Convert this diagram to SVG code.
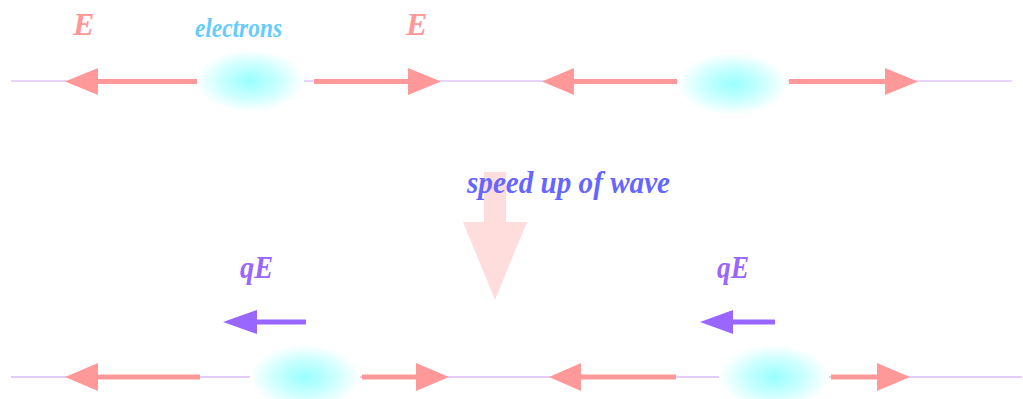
<svg xmlns="http://www.w3.org/2000/svg" width="1023" height="399" viewBox="0 0 1023 399">
<style>
.lbl{font-family:"Liberation Serif","Times New Roman",serif;font-style:italic;font-weight:bold}
.e{fill:#ff9999;font-size:32px}
.el{fill:#66ccff;font-size:27px}
.sp{fill:#6666ff;font-size:32px}
.qe{fill:#9966ff;font-size:31px}
.wire1{stroke:#d4aaf4;stroke-width:1.2;fill:none}
.wire2{stroke:#e4ccfa;stroke-width:2;fill:none}
.far{fill:#ff9999}
.qar{fill:#9966ff}
.blob{fill:url(#cloud)}
</style>
<defs>
<radialGradient id="cloud" cx="50%" cy="50%" r="50%">
<stop offset="0" stop-color="#99ffff"/>
<stop offset="0.55" stop-color="#ccffff"/>
<stop offset="1" stop-color="#ffffff"/>
</radialGradient>
</defs>
<rect width="1023" height="399" fill="#ffffff"/>
<g id="connectors">
<line class="wire1" x1="11" y1="81" x2="1012" y2="81"/>
<line class="wire2" x1="11" y1="377" x2="1022" y2="377"/>
</g>
<g id="top-electron-1"><ellipse class="blob" cx="250" cy="81" rx="54" ry="31"/></g>
<g id="top-electron-2"><ellipse class="blob" cx="733" cy="84" rx="55" ry="31"/></g>
<g id="bottom-electron-1"><ellipse class="blob" cx="305" cy="377" rx="55" ry="32"/></g>
<g id="bottom-electron-2"><ellipse class="blob" cx="774" cy="377" rx="55" ry="32"/></g>
<g id="top-fields">
<path class="far" d="M65,81.5 L98,68 L98,79 L197,79 L197,84 L98,84 L98,95 Z"/>
<path class="far" d="M441,81.5 L408,68 L408,79 L314,79 L314,84 L408,84 L408,95 Z"/>
<path class="far" d="M542,81.5 L574,68 L574,79 L677,79 L677,84 L574,84 L574,95 Z"/>
<path class="far" d="M918,81.5 L885,68 L885,79 L789,79 L789,84 L885,84 L885,95 Z"/>
</g>
<g id="bottom-fields">
<path class="far" d="M65,377 L98,363 L98,374.5 L200,374.5 L200,379.5 L98,379.5 L98,391 Z"/>
<path class="far" d="M449,377 L416,363 L416,374.5 L362,374.5 L362,379.5 L416,379.5 L416,391 Z"/>
<path class="far" d="M549,377 L581,363 L581,374.5 L676,374.5 L676,379.5 L581,379.5 L581,391 Z"/>
<path class="far" d="M910,377 L877,363 L877,374.5 L831,374.5 L831,379.5 L877,379.5 L877,391 Z"/>
</g>
<g id="force-left">
<path class="qar" d="M223,322 L257,310 L257,319.5 L306,319.5 L306,324.5 L257,324.5 L257,334 Z"/>
<text class="lbl qe" x="240" y="278" textLength="33" lengthAdjust="spacingAndGlyphs">qE</text>
</g>
<g id="force-right">
<path class="qar" d="M700,322 L733,310 L733,319.5 L775,319.5 L775,324.5 L733,324.5 L733,334 Z"/>
<text class="lbl qe" x="717" y="278" textLength="32" lengthAdjust="spacingAndGlyphs">qE</text>
</g>
<g id="speedup">
<path fill="#ffdddd" d="M484,172 L506,172 L506,222 L527,222 L495,300 L463,222 L484,222 Z"/>
<text class="lbl sp" x="467" y="193" textLength="203" lengthAdjust="spacingAndGlyphs">speed up of wave</text>
</g>
<g id="labels">
<text class="lbl e" x="73" y="35">E</text>
<text class="lbl e" x="406" y="35">E</text>
<text class="lbl el" x="195" y="37" textLength="87" lengthAdjust="spacingAndGlyphs">electrons</text>
</g>
</svg>
